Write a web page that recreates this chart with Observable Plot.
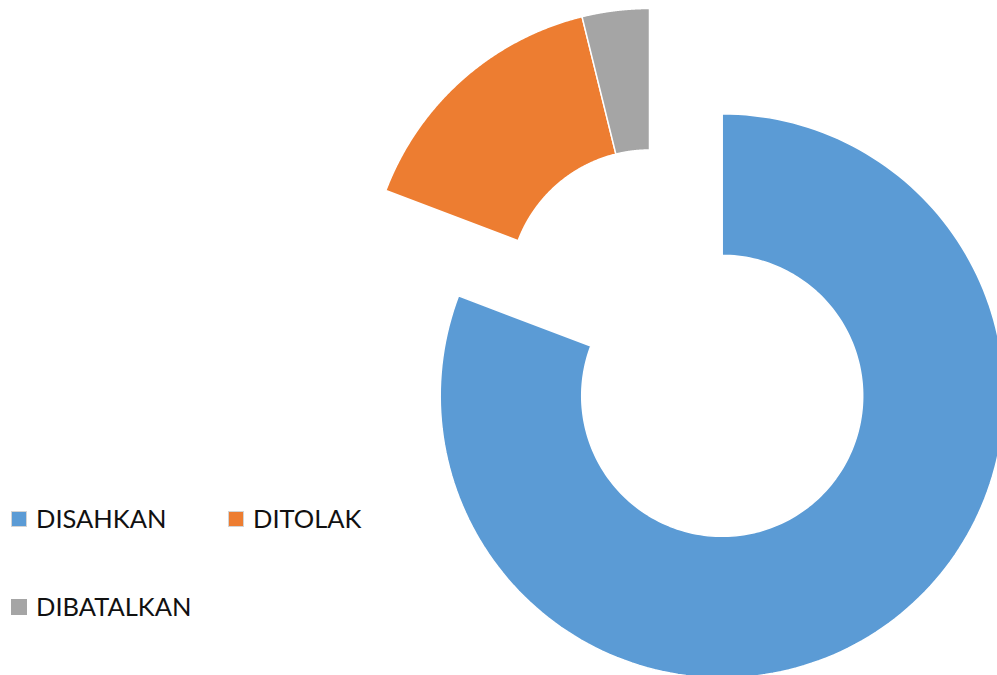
<!DOCTYPE html>
<html>
<head>
<meta charset="utf-8">
<script src="https://cdn.jsdelivr.net/npm/d3@7"></script>
<script src="https://cdn.jsdelivr.net/npm/@observablehq/plot@0.6"></script>
<style>
  html, body { margin: 0; padding: 0; background: #fff; }
  #wrap { position: relative; width: 997px; height: 675px; overflow: hidden; }
  #chart { position: absolute; left: 0; top: 0; }
  .leg { position: absolute; display: flex; align-items: center; font-family: Lato, "Open Sans", sans-serif; font-size: 25.5px; color: #111; line-height: 1; white-space: nowrap; }
  .sw { width: 14px; height: 14px; border: 1px solid #d4d4d4; margin-right: 9px; }
</style>
</head>
<body>
<div id="wrap"><div id="chart"></div></div>
<script>
// ---- data ----
const categories = ["DISAHKAN", "DITOLAK", "DIBATALKAN"];
const values = [21, 4, 1];
const colors = ["#5B9BD5", "#ED7D31", "#A5A5A5"];

// ---- layout ----
const W = 997, H = 675;
const center = [649, 290];
const rOuter = 282, rInner = 140.5;
const explodeFirst = 128; // only first slice pulled out
const steps = 180;

const slices = categories.map((c, i) => ({category: c, value: values[i], color: colors[i]}));
const arcs = d3.pie().sort(null).value(d => d.value)(slices);

const pts = [];
arcs.forEach((a, i) => {
  const mid = (a.startAngle + a.endAngle) / 2;
  const off = i === 0 ? explodeFirst : 0;
  const cx = center[0] + off * Math.sin(mid);
  const cy = center[1] - off * Math.cos(mid);
  const ring = [];
  for (let k = 0; k <= steps; k++) {
    const t = a.startAngle + (a.endAngle - a.startAngle) * k / steps;
    ring.push([cx + rOuter * Math.sin(t), cy - rOuter * Math.cos(t)]);
  }
  for (let k = steps; k >= 0; k--) {
    const t = a.startAngle + (a.endAngle - a.startAngle) * k / steps;
    ring.push([cx + rInner * Math.sin(t), cy - rInner * Math.cos(t)]);
  }
  ring.push(ring[0]);
  ring.forEach(p => pts.push({category: a.data.category, x: p[0], y: p[1]}));
});

const plot = Plot.plot({
  width: W,
  height: H,
  margin: 0,
  x: {domain: [0, W], range: [0, W], axis: null},
  y: {domain: [0, H], range: [0, H], axis: null},
  color: {domain: categories, range: colors},
  marks: [
    Plot.line(pts, {x: "x", y: "y", z: "category", fill: "category", stroke: "white", strokeWidth: 1.5, curve: "linear"})
  ]
});
document.getElementById("chart").appendChild(plot);

// ---- legend ----
const legendPos = [[11, 506], [228, 506], [11, 594]];
const wrap = document.getElementById("wrap");
categories.forEach((c, i) => {
  const d = document.createElement("div");
  d.className = "leg";
  d.style.left = legendPos[i][0] + "px";
  d.style.top = legendPos[i][1] + "px";
  const sw = document.createElement("span");
  sw.className = "sw";
  sw.style.background = colors[i];
  if (i === 2) sw.style.borderColor = colors[i];
  const tx = document.createElement("span");
  tx.textContent = c;
  d.appendChild(sw);
  d.appendChild(tx);
  wrap.appendChild(d);
});
</script>
</body>
</html>
